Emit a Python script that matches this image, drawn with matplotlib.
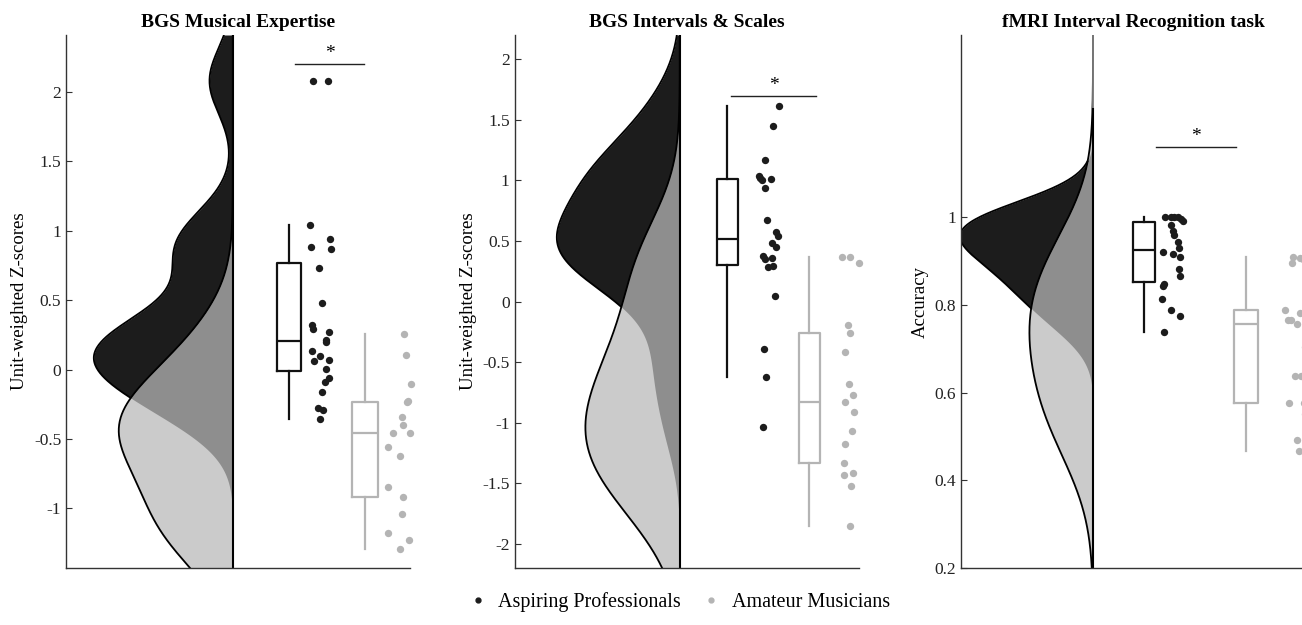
import numpy as np
import matplotlib.pyplot as plt
from matplotlib.lines import Line2D

plt.rcParams['font.family'] = ['Liberation Serif', 'DejaVu Serif']

titles = ['BGS Musical Expertise', 'BGS Intervals & Scales', 'fMRI Interval Recognition task']
ylabels = ['Unit-weighted Z-scores', 'Unit-weighted Z-scores', 'Accuracy']
group_names = ['Aspiring Professionals', 'Amateur Musicians']

# panel 1 - BGS Musical Expertise
exp_pro = [2.08, 2.08, 1.04, 0.94, 0.88, 0.87, 0.73, 0.48, 0.32, 0.295, 0.27, 0.21,
           0.195, 0.13, 0.096, 0.058, 0.066, 0.004, -0.061, -0.091, -0.16, -0.28, -0.29, -0.36]
exp_pro_x = [246.7, 262.2, 244.2, 263.9, 245.3, 264.9, 252.9, 256.3, 245.6, 247.3, 263.2, 260.4,
             259.7, 246.3, 254.2, 248.0, 263.2, 260.4, 263.2, 258.7, 256.3, 251.8, 257.0, 253.5]
exp_am = [0.257, 0.108, -0.103, -0.233, -0.228, -0.345, -0.40, -0.46, -0.46, -0.556, -0.626,
          -0.845, -0.92, -1.04, -1.18, -1.23, -1.29]
exp_am_x = [338.0, 340.3, 344.8, 341.4, 342.4, 335.5, 336.9, 326.6, 343.8, 322.4, 333.8,
            322.4, 336.9, 335.5, 321.7, 343.1, 333.8]

# panel 2 - BGS Intervals & Scales
int_pro = [1.61, 1.45, 1.17, 1.04, 1.02, 1.00, 1.01, 0.94, 0.67, 0.57, 0.54, 0.486, 0.45,
           0.377, 0.35, 0.357, 0.285, 0.29, 0.048, -0.39, -0.62, -1.035]
int_pro_x = [264.0, 258.8, 250.9, 244.0, 245.4, 247.5, 256.4, 250.9, 252.6, 261.2, 263.0, 257.8,
             261.9, 248.2, 250.6, 257.8, 253.3, 258.5, 260.2, 249.9, 251.6, 248.8]
int_am = [0.37, 0.37, 0.32, -0.195, -0.264, -0.42, -0.68, -0.77, -0.83, -0.91, -1.07, -1.18,
          -1.33, -1.43, -1.416, -1.52, -1.85]
int_am_x = [327.4, 335.3, 344.9, 333.2, 335.3, 330.1, 334.3, 338.4, 330.1, 339.4, 337.7, 330.1,
            329.4, 329.4, 338.4, 336.3, 335.3]

# panel 3 - fMRI accuracy
acc_pro = [1.0, 1.0, 1.0, 1.0, 0.995, 0.99, 0.983, 0.969, 0.958, 0.942, 0.93, 0.921, 0.915,
           0.909, 0.882, 0.866, 0.848, 0.842, 0.814, 0.789, 0.774, 0.738]
acc_pro_x = [203.7, 209.6, 213.0, 216.5, 219.9, 221.7, 210.3, 212.4, 213.0, 216.5, 217.5, 202.0,
             212.4, 218.9, 217.9, 218.9, 202.7, 201.7, 201.0, 209.6, 218.9, 203.1]
acc_am = [0.909, 0.907, 0.895, 0.905, 0.789, 0.782, 0.766, 0.766, 0.757, 0.703, 0.637, 0.637,
          0.576, 0.576, 0.552, 0.492, 0.466]
acc_am_x = [331.9, 338.8, 330.8, 342.2, 323.9, 338.8, 326.7, 329.5, 336.0, 343.9, 333.6, 339.8,
            328.4, 342.9, 343.9, 336.3, 338.1]

DARK = '#1c1c1c'
LIGHT = '#cbcbcb'
MID = '#8e8e8e'
AM_COL = '#b4b4b4'

panels = [
    dict(data=(exp_pro, exp_pro_x, exp_am, exp_am_x), left=66, base=166.8, vw=139, bwf=1.0,
         box=(223.2, 23.8, 299.0, 26.9), sig=(229.4, 298.3, 2.20, 2.28),
         ylim=(-1.43, 2.41), yticks=[-1, -0.5, 0, 0.5, 1, 1.5, 2]),
    dict(data=(int_pro, int_pro_x, int_am, int_am_x), left=514.5, base=165.3, vw=123, bwf=0.86,
         box=(212.7, 20.7, 294.7, 20.7), sig=(216.5, 301.5, 1.70, 1.78),
         ylim=(-2.2, 2.2), yticks=[-2, -1.5, -1, -0.5, 0, 0.5, 1, 1.5, 2]),
    dict(data=(acc_pro, acc_pro_x, acc_am, acc_am_x), left=961, base=132, vw=133, bwf=1.0,
         box=(182.7, 22.4, 285.4, 24.1), sig=(195.1, 275.4, 1.16, 1.184),
         ylim=(0.2, 1.415), yticks=[0.2, 0.4, 0.6, 0.8, 1]),
]


def kde(vals, grid, f):
    v = np.asarray(vals)
    n = len(v)
    sig = np.median(np.abs(v - np.median(v))) / 0.6745
    bw = f * sig * (4 / (3 * n)) ** 0.2
    d = np.exp(-0.5 * ((grid[:, None] - v[None, :]) / bw) ** 2).sum(1)
    return d / (n * bw * np.sqrt(2 * np.pi))


fig = plt.figure(figsize=(13.02, 6.25), dpi=100)
W, H = 1302, 625

for i, p in enumerate(panels):
    pro, pro_x, am, am_x = p['data']
    ax = fig.add_axes([p['left'] / W, 57 / H, 344 / W, 533 / H])
    y = np.linspace(p['ylim'][0], p['ylim'][1], 600)
    kd = kde(pro, y, p['bwf'])
    kl = kde(am, y, p['bwf'])
    sc = p['vw'] / max(kd.max(), kl.max())
    kd, kl = kd * sc, kl * sc
    b = p['base']
    ax.fill_betweenx(y, b, b - kd, color=DARK, lw=0)
    ax.fill_betweenx(y, b, b - kl, color=LIGHT, lw=0)
    ax.fill_betweenx(y, b, b - np.minimum(kd, kl), color=MID, lw=0)
    ax.plot(b - kl, y, color='black', lw=1.3)
    ax.plot(b - np.where(kd >= kl, kd, np.nan), y, color='black', lw=1.3)
    # baseline
    ax.axvline(b, color='#8a8a8a', lw=1.2)
    on = np.maximum(kd, kl) > 0.004 * p['vw']
    ax.plot(np.where(on, b, np.nan), y, color='black', lw=1.5)

    c1, w1, c2, w2 = p['box']
    for vals, c, w, col in [(pro, c1, w1, '#111111'), (am, c2, w2, AM_COL)]:
        ax.boxplot([vals], positions=[c], widths=w, whis=1.5, showfliers=False, showcaps=False,
                   boxprops=dict(color=col, lw=1.6), whiskerprops=dict(color=col, lw=1.6),
                   medianprops=dict(color=col, lw=1.6))
    ax.scatter(pro_x, pro, s=28, color=DARK, lw=0, zorder=3, clip_on=False)
    ax.scatter(am_x, am, s=28, color=AM_COL, lw=0, zorder=3, clip_on=False)

    x0, x1, ly, sy = p['sig']
    ax.plot([x0, x1], [ly, ly], color='#222222', lw=1)
    ax.text((x0 + x1) / 2, sy, '*', ha='center', va='center', fontsize=14)

    ax.set_xlim(0, 344)
    ax.set_ylim(*p['ylim'])
    ax.set_xticks([])
    ax.set_yticks(p['yticks'])
    ax.set_yticklabels([f'{t:g}' for t in p['yticks']])
    ax.tick_params(axis='y', direction='in', length=4, labelsize=12.5, colors='#333333',
                   labelcolor='#222222')
    for s in ['top', 'right']:
        ax.spines[s].set_visible(False)
    for s in ['left', 'bottom']:
        ax.spines[s].set_color('#333333')
        ax.spines[s].set_linewidth(1.0)
    ax.set_title(titles[i], fontsize=14, fontweight='bold', pad=6)
    ax.set_ylabel(ylabels[i], fontsize=13.5, labelpad=4)

handles = [Line2D([], [], ls='', marker='o', ms=3.5, color=DARK),
           Line2D([], [], ls='', marker='o', ms=3.5, color=AM_COL)]
fig.legend(handles, group_names, loc='center', bbox_to_anchor=(678 / W, 1 - 602 / H), ncol=2,
           frameon=False, fontsize=14.5, handletextpad=0.4, columnspacing=0.9, handlelength=1.2)

fig.savefig('out.png', dpi=100)
